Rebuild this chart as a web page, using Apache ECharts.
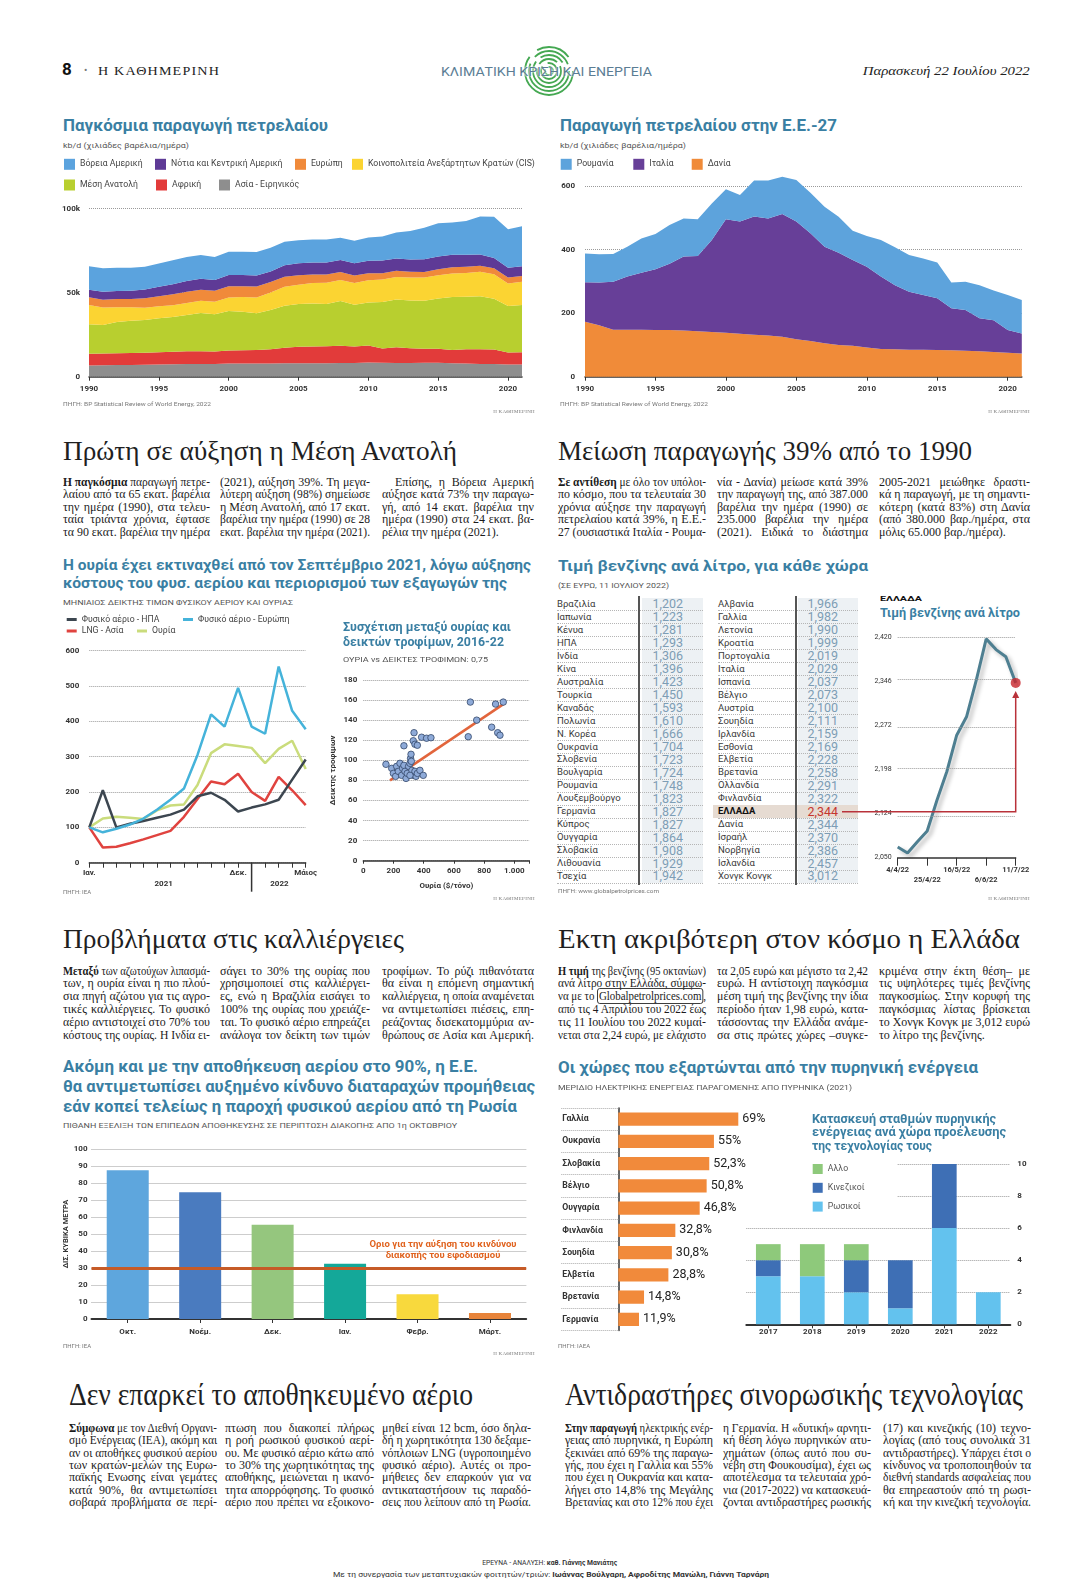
<!DOCTYPE html>
<html><head><meta charset="utf-8">
<script src="https://cdn.jsdelivr.net/npm/echarts@6/dist/echarts.min.js"></script>
<style>
html,body{margin:0;padding:0;background:#fff;}
#page{position:relative;width:1089px;height:1582px;overflow:hidden;background:#fff;font-family:Roboto,"Noto Sans",sans-serif;}
.cell{position:absolute;white-space:nowrap;}
</style></head><body><div id="page">
<svg style="position:absolute;left:520px;top:44px" width="58" height="58" viewBox="0 0 58 58">
<g fill="none" stroke="#45a852" stroke-width="1.8">
<circle cx="29" cy="27" r="4" stroke-dasharray="14 4"/>
<circle cx="29" cy="27" r="8" stroke-dasharray="30 6"/>
<circle cx="29" cy="27" r="12" stroke-dasharray="40 5 20 5"/>
<circle cx="29" cy="27" r="16" stroke-dasharray="60 6 25 6"/>
<circle cx="29" cy="27" r="20" stroke-dasharray="70 8 40 8"/>
<circle cx="29" cy="27" r="24" stroke-dasharray="90 10 35 15"/>
</g></svg>
</div>
<script>
// ---------------- DATA ----------------
const oilYears=['1990','1991','1992','1993','1994','1995','1996','1997','1998','1999','2000','2001','2002','2003','2004','2005','2006','2007','2008','2009','2010','2011','2012','2013','2014','2015','2016','2017','2018','2019','2020','2021'];
const northAmerica=[13900,14000,13900,13600,13600,13900,14200,14400,14200,13700,13900,13900,14100,14200,14100,13700,13700,13700,13200,13400,13800,14300,15500,16900,18800,19700,19200,20100,22600,24500,23000,23800];
const southCentralAmerica=[4500,4700,4800,4900,5200,5600,6000,6400,6600,6300,6700,6600,6500,6300,6800,7100,7100,7100,7200,7200,7400,7500,7400,7400,7600,7700,7500,7200,6700,6200,5700,5800];
const europe=[4600,4600,4800,5000,5700,6000,6500,6600,6500,6600,6700,6500,6500,6200,6000,5600,5200,5000,4700,4500,4200,3800,3600,3300,3300,3500,3600,3600,3500,3500,3600,3400];
const cis=[11500,10400,8900,8000,7300,7100,7100,7200,7300,7500,8000,8700,9500,10400,11300,11600,12100,12600,12600,13000,13300,13400,13500,13700,13800,13900,14100,14200,14600,14600,13400,13800];
const middleEast=[17500,17000,18600,19200,19500,20300,20600,21600,22800,22100,23500,23000,21800,23400,24900,25300,25600,25200,26600,24800,25600,27600,28400,28400,28600,29900,31500,31200,31600,30200,27700,28200];
const africa=[7000,7000,7000,7100,7100,7200,7500,7600,7600,7500,7800,7900,8000,8400,9300,9900,10000,10100,10300,9800,10100,8500,9300,8800,8300,8300,7900,8600,8700,8600,7100,7200];
const asiaPacific=[6700,6800,6900,7000,7100,7300,7400,7500,7500,7500,7800,7800,7900,7900,8000,8000,8000,8000,8100,8200,8400,8300,8200,8200,8300,8300,8000,7800,7600,7600,7300,7300];

const romania=[91,89,87,94,108,111,122,120,115,115,95,84,113,119,117,131,128,126,113,92,97,115,119,116,115,112,81,89,104,93,110,105];
const italy=[124,134,151,167,179,191,208,233,237,289,357,353,372,368,386,370,339,304,290,270,254,228,202,182,172,163,132,128,104,100,72,63];
const denmark=[173,162,148,148,148,147,147,145,143,141,138,135,132,130,126,118,112,105,100,97,92,87,86,85,85,84,83,82,80,78,75,73];

const gasMonths=['Ιαν.','Φεβ.','Μάρ.','Απρ.','Μάιος','Ιούν.','Ιούλ.','Αύγ.','Σεπ.','Οκτ.','Νοέ.','Δεκ.','Ιαν.','Φεβ.','Μάρ.','Απρ.','Μάιος'];
const gasUS=[100,205,100,110,118,127,136,150,188,198,178,145,156,165,178,235,292];
const gasEurope=[100,86,96,108,125,150,178,210,305,420,385,495,385,365,555,430,378];
const lngAsia=[100,43,45,55,66,78,90,130,180,230,222,252,200,175,243,205,163];
const ureaIndex=[100,125,130,127,124,148,162,165,220,310,335,330,325,282,322,345,265];

const scatterUrea=[150,188,199,214,221,232,243,254,260,269,276,283,291,300,309,313,316,318,322,331,342,349,358,375,397,309,269,336,331,342,358,386,419,448,695,709,751,850,876,890,905,927];
const scatterFood=[96,92,87,84,94,89,97,85,92,95,89,82,87,94,97,102,106,99,90,85,89,84,87,90,85,85,114.5,127.5,119.5,116,115,123,122,122.5,123.5,158,140,133,156,127.5,125,158];
const trendUrea=[177,938];
const trendFood=[80,157];

const petrolCountriesA=['Βραζιλία','Ιαπωνία','Κένυα','ΗΠΑ','Ινδία','Κίνα','Αυστραλία','Τουρκία','Καναδάς','Πολωνία','Ν. Κορέα','Ουκρανία','Σλοβενία','Βουλγαρία','Ρουμανία','Λουξεμβούργο','Γερμανία','Κύπρος','Ουγγαρία','Σλοβακία','Λιθουανία','Τσεχία'];
const petrolPricesA=[1.202,1.223,1.281,1.293,1.306,1.396,1.423,1.450,1.593,1.610,1.666,1.704,1.723,1.724,1.748,1.823,1.827,1.827,1.864,1.908,1.929,1.942];
const petrolCountriesB=['Αλβανία','Γαλλία','Λετονία','Κροατία','Πορτογαλία','Ιταλία','Ισπανία','Βέλγιο','Αυστρία','Σουηδία','Ιρλανδία','Εσθονία','Ελβετία','Βρετανία','Ολλανδία','Φινλανδία','ΕΛΛΑΔΑ','Δανία','Ισραήλ','Νορβηγία','Ισλανδία','Χονγκ Κονγκ'];
const petrolPricesB=[1.966,1.982,1.990,1.999,2.019,2.029,2.037,2.073,2.100,2.111,2.159,2.169,2.228,2.258,2.291,2.322,2.344,2.344,2.370,2.386,2.457,3.012];

const greeceDates=['4/4/22','11/4/22','18/4/22','25/4/22','2/5/22','9/5/22','16/5/22','23/5/22','30/5/22','6/6/22','13/6/22','27/6/22','11/7/22'];
const greecePrices=[2.068,2.058,2.077,2.095,2.147,2.195,2.256,2.287,2.349,2.418,2.400,2.388,2.344];
const greeceTicks=[2.050,2.124,2.198,2.272,2.346,2.420];

const storageMonths=['Οκτ.','Νοέμ.','Δεκ.','Ιαν.','Φεβρ.','Μάρτ.'];
const storageValues=[87.5,74.5,55.5,32.5,14.5,3.5];
const storageThreshold=30;

const nuclearCountries=['Γαλλία','Ουκρανία','Σλοβακία','Βέλγιο','Ουγγαρία','Φινλανδία','Σουηδία','Ελβετία','Βρετανία','Γερμανία'];
const nuclearShare=[69,55,52.3,50.8,46.8,32.8,30.8,28.8,14.8,11.9];

const buildYears=['2017','2018','2019','2020','2021','2022'];
const russianReactors=[3,3,2,1,6,2];
const chineseReactors=[1,0,2,3,4,0];
const otherReactors=[1,2,1,0,0,0];

// ---------------- helpers ----------------
const page=document.getElementById('page');
const TEAL='#3a7fa3';
const FF='Roboto, "Noto Sans", sans-serif';
function txt(x,yc,html,style,fitW,align){
  const d=document.createElement('div');
  d.className='cell';
  d.style.cssText+='line-height:1.15;'+style;
  d.innerHTML='<span style="display:inline-block">'+html+'</span>';
  page.appendChild(d);
  const s=d.firstChild;
  const r=s.getBoundingClientRect();
  if(fitW){s.style.transformOrigin=align==='c'?'50% 50%':(align==='r'?'100% 50%':'0 50%');s.style.transform='scaleX('+(fitW/r.width)+')';}
  d.style.top=(yc-r.height/2)+'px';
  if(align==='c')d.style.left=(x-r.width/2)+'px';else if(align==='r')d.style.left=(x-r.width)+'px';else d.style.left=x+'px';
  return d;
}
function col(lines,x,y0,lh,w,fs){
  lines.forEach((ln,i)=>{
    let indent=0,last=false,s=ln;
    if(s[0]==='>'){indent=13;s=s.slice(1);}
    if(s.endsWith('¶')){last=true;s=s.slice(0,-1);}
    const d=document.createElement('div');
    d.className='cell';
    d.style.cssText+=`font-family:"Liberation Serif",serif;font-size:${fs}px;line-height:${lh}px;color:#1b1b1b;left:${x+indent}px;top:${y0+i*lh-lh/2}px;`;
    const sp=document.createElement('span');sp.style.display='inline-block';sp.innerHTML=s;d.appendChild(sp);page.appendChild(d);
    const avail=w-indent;const nat=sp.getBoundingClientRect().width;
    if(nat>avail){sp.style.transformOrigin='0 50%';sp.style.transform=`scaleX(${avail/nat})`;}
    else if(!last){const n=(sp.textContent.match(/ /g)||[]).length;if(n)sp.style.wordSpacing=((avail-nat)/n)+'px';}
  });
}
function mk(x,y,w,h){const d=document.createElement('div');d.style.cssText=`position:absolute;left:${x}px;top:${y}px;width:${w}px;height:${h}px;`;page.appendChild(d);return echarts.init(d,null,{renderer:'canvas'});}
const lab={fontFamily:FF,fontSize:8,fontWeight:'bold',color:'#333'};
const dotted={lineStyle:{type:'dotted',color:'#9a9a9a',width:1}};
function leg(name,left,top,w,h,fs){return {data:[name],left,top,padding:0,icon:'rect',itemWidth:w,itemHeight:h,itemGap:0,selectedMode:false,textStyle:{fontFamily:FF,fontSize:fs,color:'#444'}};}
const fmt3=v=>v.toFixed(3).replace('.',',');
const fmtPct=v=>(Number.isInteger(v)?String(v):v.toFixed(1).replace('.',','))+'%';
const G=(o)=>Object.assign({containLabel:false,outerBoundsMode:'none'},o);
const axName={fontFamily:FF,fontSize:8,fontWeight:'bold',color:'#333'};

// ---------------- C1 world oil ----------------
const c1=mk(55,150,480,255);
const c1Names=['Βόρεια Αμερική','Νότια και Κεντρική Αμερική','Ευρώπη','Κοινοπολιτεία Ανεξάρτητων Κρατών (CIS)','Μέση Ανατολή','Αφρική','Ασία - Ειρηνικός'];
const c1Data=[northAmerica,southCentralAmerica,europe,cis,middleEast,africa,asiaPacific];
const c1Colors=['#5ba3de','#5e3a96','#f08a3a','#fbd432','#b8cf2f','#e23b3a','#8e8e8e'];
const c1Series=[];
for(let i=6;i>=0;i--)c1Series.push({name:c1Names[i],type:'line',stack:'oil',data:c1Data[i],symbol:'none',lineStyle:{width:0},areaStyle:{color:c1Colors[i],opacity:1},itemStyle:{color:c1Colors[i]}});
c1.setOption({animation:false,
  legend:[leg(c1Names[0],9,8.8,11,11,8.7),leg(c1Names[1],100,8.8,11,11,8.7),leg(c1Names[2],240,8.8,11,11,8.7),leg(c1Names[3],297,8.8,11,11,8.7),
          leg(c1Names[4],9,29.5,11,11,8.7),leg(c1Names[5],101,29.5,11,11,8.7),leg(c1Names[6],164,29.5,11,11,8.7)],
  grid:G({left:34,right:13,top:58.7,bottom:28.3}),
  xAxis:{type:'category',data:oilYears,boundaryGap:false,axisLine:{lineStyle:{color:'#333',width:1.5}},
    axisTick:{show:true,interval:(i)=>i%5===0,length:4,lineStyle:{color:'#333'}},
    axisLabel:Object.assign({interval:(i)=>i%5===0,margin:8},lab),splitLine:{show:false}},
  yAxis:{type:'value',min:0,max:100000,interval:50000,axisLine:{show:false},axisTick:{show:false},
    axisLabel:Object.assign({formatter:v=>v===0?'0':(v/1000)+'k',margin:9},lab),splitLine:dotted},
  series:c1Series});

// ---------------- C2 EU oil ----------------
const c2=mk(550,150,480,255);
c2.setOption({animation:false,
  legend:[leg('Ρουμανία',10.7,8.8,11,11,8.7),leg('Ιταλία',83.3,8.8,11,11,8.7),leg('Δανία',141.7,8.8,11,11,8.7)],
  grid:G({left:35,right:8.2,top:36,bottom:28.3}),
  xAxis:{type:'category',data:oilYears,boundaryGap:false,axisLine:{lineStyle:{color:'#333',width:1.5}},
    axisTick:{show:true,interval:(i)=>i%5===0,length:4,lineStyle:{color:'#333'}},
    axisLabel:Object.assign({interval:(i)=>i%5===0,margin:8},lab),splitLine:{show:false}},
  yAxis:{type:'value',min:0,max:600,interval:200,axisLine:{show:false},axisTick:{show:false},
    axisLabel:Object.assign({margin:10},lab),splitLine:dotted},
  series:[
    {name:'Δανία',type:'line',stack:'eu',data:denmark,symbol:'none',clip:false,lineStyle:{width:0},areaStyle:{color:'#f08b39',opacity:1},itemStyle:{color:'#f08b39'}},
    {name:'Ιταλία',type:'line',stack:'eu',data:italy,symbol:'none',clip:false,lineStyle:{width:0},areaStyle:{color:'#673f98',opacity:1},itemStyle:{color:'#673f98'}},
    {name:'Ρουμανία',type:'line',stack:'eu',data:romania,symbol:'none',clip:false,lineStyle:{width:0},areaStyle:{color:'#5da3dc',opacity:1},itemStyle:{color:'#5da3dc'}}
  ]});

// ---------------- C3 gas & urea ----------------
const c3=mk(55,608,285,292);
const c3Names=['Φυσικό αέριο - ΗΠΑ','Φυσικό αέριο - Ευρώπη','LNG - Ασία','Ουρία'];
const c3Colors=['#3c4650','#45b3da','#e0433f','#cadc7c'];
const c3Data=[gasUS,gasEurope,lngAsia,ureaIndex];
c3.setOption({animation:false,
  legend:[leg(c3Names[0],11.7,7,10,3,8.7),leg(c3Names[1],128,7,10,3,8.7),leg(c3Names[2],11.7,18.5,10,3,8.7),leg(c3Names[3],82,18.5,10,3,8.7)],
  grid:G({left:34.3,right:34.3,top:42.7,bottom:37.3}),
  xAxis:{type:'category',data:gasMonths,boundaryGap:false,axisLine:{lineStyle:{color:'#333',width:1.5}},
    axisTick:{show:true,interval:0,length:5,lineStyle:{color:'#333'}},
    axisLabel:Object.assign({interval:(i)=>i===0||i===11||i===16,margin:6},lab),splitLine:{show:false}},
  yAxis:{type:'value',min:0,max:600,interval:100,axisLine:{show:false},axisTick:{show:false},
    axisLabel:Object.assign({margin:10},lab),splitLine:dotted},
  series:[3,2,0,1].map(i=>({name:c3Names[i],type:'line',data:c3Data[i],symbol:'none',lineStyle:{width:2.5,color:c3Colors[i]},itemStyle:{color:c3Colors[i]}}))
});
{
  const p=(i)=>c3.convertToPixel({xAxisIndex:0},i);
  const y0=c3.convertToPixel({yAxisIndex:0},0);
  c3.setOption({graphic:[
    {type:'line',shape:{x1:p(12),y1:y0,x2:p(12),y2:y0+29},style:{stroke:'#333',lineWidth:1.5}},
    {type:'text',x:(p(5)+p(6))/2,y:y0+21,style:{text:'2021',font:'bold 8px Roboto',fill:'#333',align:'center',verticalAlign:'middle'}},
    {type:'text',x:(p(14)+p(15))/2-6,y:y0+21,style:{text:'2022',font:'bold 8px Roboto',fill:'#333',align:'center',verticalAlign:'middle'}}
  ]});
}

// ---------------- C4 scatter ----------------
const c4=mk(330,660,210,240);
c4.setOption({animation:false,
  grid:G({left:33.3,right:10.6,top:20,bottom:39.3}),
  xAxis:{type:'value',min:0,max:1100,interval:200,axisLine:{show:true,lineStyle:{color:'#333',width:1.5}},axisTick:{show:true,length:3,lineStyle:{color:'#333'}},
    axisLabel:Object.assign({formatter:v=>v===1000?'1.000':(v>1000?'':String(v)),margin:6},lab),splitLine:{show:false},
    name:'Ουρία ($/τόνο)',nameLocation:'middle',nameGap:21,nameMoveOverlap:false,nameTextStyle:axName},
  yAxis:{type:'value',min:0,max:180,interval:20,axisLine:{show:false},axisTick:{show:false},
    axisLabel:Object.assign({margin:6},lab),splitLine:dotted,
    name:'Δείκτης τροφίμων',nameLocation:'middle',nameGap:26,nameRotate:90,nameMoveOverlap:false,nameTextStyle:axName},
  series:[
    {type:'line',data:trendUrea.map((u,i)=>[u,trendFood[i]]),symbol:'none',lineStyle:{color:'#e2653c',width:2.5},z:2},
    {type:'scatter',data:scatterUrea.map((u,i)=>[u,scatterFood[i]]),symbolSize:6.5,itemStyle:{color:'#8eaad8',borderColor:'#34476a',borderWidth:0.8,opacity:1},z:3}
  ]});

// ---------------- table ----------------
const rowY0=604.3,rowH=12.97;
[[petrolCountriesA,petrolPricesA,557,638,683,641.7,703],[petrolCountriesB,petrolPricesB,718,795,838,797.5,858]].forEach(([names,vals,nx,lx,vx,bx0,bx1])=>{
  const band=document.createElement('div');band.style.cssText=`position:absolute;left:${bx0}px;top:${rowY0-6.5}px;width:${bx1-bx0}px;height:${rowH*names.length}px;background:#edf1f4;`;page.appendChild(band);
  names.forEach((n,i)=>{
    const yc=rowY0+i*rowH;
    const gr=n==='ΕΛΛΑΔΑ';
    if(gr){const h=document.createElement('div');h.style.cssText=`position:absolute;left:${nx-5}px;top:${yc-6.5}px;width:${bx1-nx+5}px;height:${rowH}px;background:#e6dbd2;`;page.appendChild(h);}
    const ln=document.createElement('div');ln.style.cssText=`position:absolute;left:${nx}px;top:${yc+6}px;width:${bx1-nx}px;border-top:1px dotted #b5b5b5;`;page.appendChild(ln);
    txt(nx,yc,n,`font-family:${FF};font-size:9.5px;color:${gr?'#111':'#3a3a3a'};${gr?'font-weight:bold;':''}`);
    txt(vx,yc,fmt3(vals[i]),`font-family:${FF};font-size:12.5px;color:${gr?'#c5362f':'#7d9db5'};`,null,'r');
  });
  const vl=document.createElement('div');vl.style.cssText=`position:absolute;left:${lx}px;top:${rowY0-8}px;width:1.5px;height:${rowH*names.length+3}px;background:#555;`;page.appendChild(vl);
});

// ---------------- C6 Greece ----------------
const c6=mk(840,625,200,270);
const gLast=greecePrices.length-1;
c6.setOption({animation:false,
  grid:G({left:57.7,right:24.3,top:12.7,bottom:37.3}),
  xAxis:{type:'category',data:greeceDates,boundaryGap:false,axisLine:{lineStyle:{color:'#333',width:1.5}},
    axisTick:{show:true,interval:(i)=>i%3===0,length:8,lineStyle:{color:'#333'}},
    axisLabel:{interval:(i)=>i%3===0,formatter:(v,i)=>((i/3)%2===1?'\n':'')+v,margin:7,fontFamily:FF,fontSize:7.5,fontWeight:'bold',color:'#333',lineHeight:10.5},splitLine:{show:false}},
  yAxis:{type:'value',min:greeceTicks[0],max:greeceTicks[greeceTicks.length-1],axisLine:{show:false},
    axisTick:{show:false,customValues:greeceTicks},
    axisLabel:{customValues:greeceTicks,formatter:v=>fmt3(v),margin:6,fontFamily:FF,fontSize:7,color:'#333'},splitLine:{show:false}},
  series:[
    {type:'line',data:greecePrices,symbol:'none',lineStyle:{width:3,color:'#4e7f91',shadowColor:'rgba(0,0,0,0.28)',shadowBlur:4,shadowOffsetX:3,shadowOffsetY:3},
      markLine:{silent:true,symbol:'none',label:{show:false},lineStyle:{type:'dotted',color:'#9a9a9a',width:1},data:greeceTicks.slice(1).map(v=>({yAxis:v}))},z:3},
    {type:'scatter',data:[[greeceDates[gLast],greecePrices[gLast]]],symbolSize:10,itemStyle:{color:'#c8262c'},z:5}
  ]});
{
  const pt=c6.convertToPixel({seriesIndex:0},[gLast,greecePrices[gLast]]);
  const rowY=rowY0+16*rowH-625;
  c6.setOption({graphic:[
    {type:'polyline',shape:{points:[[2,rowY],[pt[0],rowY],[pt[0],pt[1]+12]]},style:{stroke:'#b9323a',lineWidth:1.5,fill:null},z:4},
    {type:'polygon',shape:{points:[[pt[0]-3.5,pt[1]+15],[pt[0]+3.5,pt[1]+15],[pt[0],pt[1]+8]]},style:{fill:'#b9323a'},z:4}
  ]});
}

// ---------------- C7 gas storage ----------------
const c7=mk(55,1135,480,215);
const storageColors=['#5ea6dd','#4a7bbf','#95c67e','#14a899','#f8d93d','#e8843a'];
c7.setOption({animation:false,
  grid:G({left:36.5,right:8.8,top:14,bottom:31}),
  xAxis:{type:'category',data:storageMonths,axisLine:{lineStyle:{color:'#333',width:2}},axisTick:{show:true,alignWithLabel:true,length:4,lineStyle:{color:'#333'}},
    axisLabel:Object.assign({margin:9},lab)},
  yAxis:{type:'value',min:0,max:100,interval:10,axisLine:{show:false},axisTick:{show:false},axisLabel:Object.assign({margin:4},lab),splitLine:dotted,
    name:'ΔΙΣ. ΚΥΒΙΚΑ ΜΕΤΡΑ',nameLocation:'middle',nameGap:21,nameRotate:90,nameMoveOverlap:false,nameTextStyle:Object.assign({},axName,{fontSize:7.5})},
  series:[{type:'bar',barWidth:42,data:storageValues.map((v,i)=>({value:v,itemStyle:{color:storageColors[i]}})),
    markLine:{silent:true,symbol:['none','arrow'],symbolSize:[0,10],label:{show:false},lineStyle:{color:'#c65b27',width:3,type:'solid'},data:[{yAxis:storageThreshold}]}}]
});
{
  const ty=c7.convertToPixel({yAxisIndex:0},storageThreshold);
  c7.setOption({graphic:[
    {type:'text',x:388,y:ty-23,style:{text:'Οριο για την αύξηση του κινδύνου',font:'bold 9.5px Roboto',fill:'#e0631f',align:'center',verticalAlign:'middle'}},
    {type:'text',x:388,y:ty-12,style:{text:'διακοπής του εφοδιασμού',font:'bold 9.5px Roboto',fill:'#e0631f',align:'center',verticalAlign:'middle'}}
  ]});
}

// ---------------- C9 reactors (before C8 so C8 labels stay on top) ----------------
const c9=mk(740,1100,290,245);
c9.setOption({animation:false,
  legend:{data:['Αλλο','Κινεζικοί','Ρωσικοί'],orient:'vertical',left:72.7,top:64,padding:0,itemWidth:10,itemHeight:10,itemGap:8.8,icon:'rect',selectedMode:false,z:20,textStyle:{fontFamily:FF,fontSize:8.7,color:'#555'}},
  grid:G({left:6.3,right:19.7,top:64,bottom:20.7}),
  xAxis:{type:'category',data:buildYears,axisLine:{lineStyle:{color:'#333',width:2}},axisTick:{show:true,alignWithLabel:true,length:4,lineStyle:{color:'#333'}},axisLabel:Object.assign({margin:4},lab)},
  yAxis:{type:'value',position:'right',min:0,max:10,interval:2,axisLine:{show:false},axisTick:{show:false},axisLabel:Object.assign({margin:7},lab),splitLine:dotted},
  graphic:[{type:'rect',shape:{x:0,y:0,width:157,height:99},style:{fill:'#fff'},z:10}],
  series:[
    {name:'Ρωσικοί',type:'bar',stack:'r',barWidth:24.7,data:russianReactors,itemStyle:{color:'#63c2ee'}},
    {name:'Κινεζικοί',type:'bar',stack:'r',barWidth:24.7,data:chineseReactors,itemStyle:{color:'#3e6fb5'}},
    {name:'Αλλο',type:'bar',stack:'r',barWidth:24.7,data:otherReactors,itemStyle:{color:'#8ec97b'}}
  ]});

// ---------------- C8 nuclear share ----------------
const c8=mk(550,1100,250,245);
c8.setOption({animation:false,
  grid:G({left:68.3,right:7.8,top:7.9,bottom:14.5}),
  yAxis:{type:'category',data:nuclearCountries,inverse:true,axisLine:{lineStyle:{color:'#333',width:1.5}},
    axisTick:{show:true,length:57,lineStyle:{type:'dotted',color:'#aaa'}},
    axisLabel:{align:'left',margin:56,fontFamily:FF,fontSize:8.7,fontWeight:'bold',color:'#333'}},
  xAxis:{type:'value',min:0,max:100,show:false},
  series:[{type:'bar',data:nuclearShare,barWidth:13.3,itemStyle:{color:'#f18a3b'},
    label:{show:true,position:'right',distance:4,formatter:p=>fmtPct(p.value),fontFamily:FF,fontSize:12.5,color:'#222'}}]
});

// ---------------- texts ----------------
const tt=`font-family:${FF};font-weight:bold;color:${TEAL};`;
const sub=`font-family:${FF};font-size:7.5px;color:#555;`;
const srcS=`font-family:${FF};font-size:6px;color:#777;`;
const kath=`font-family:"Liberation Serif",serif;font-size:5px;color:#777;letter-spacing:0.3px;`;
const head=`font-family:"Liberation Serif",serif;font-size:28px;color:#1f1f1f;`;
const head2=`font-family:"Liberation Serif",serif;font-size:31px;color:#1f1f1f;`;
const FS=12;

// header
txt(62,70,'8',`font-family:${FF};font-weight:bold;font-size:17px;color:#111;`);
txt(84,71,'•',`font-family:${FF};font-size:10px;color:#777;`);
txt(98,72,'Η ΚΑΘΗΜΕΡΙΝΗ',`font-family:"Liberation Serif",serif;font-size:12px;color:#222;letter-spacing:1px;`,122);
txt(441,73,'ΚΛΙΜΑΤΙΚΗ ΚΡΙΣΗ ΚΑΙ ΕΝΕΡΓΕΙΑ',`font-family:${FF};font-size:12px;color:#5b7d94;text-shadow:0 0 2px #fff,0 0 2px #fff;`,211);
txt(1030,71,'Παρασκευή 22 Ιουλίου 2022',`font-family:"Liberation Serif",serif;font-style:italic;font-size:13px;color:#222;`,167,'r');

// section 1
txt(63,126,'Παγκόσμια παραγωγή πετρελαίου',tt+'font-size:17px;',265);
txt(63,146,'kb/d (χιλιάδες βαρέλια/ημέρα)',sub,126);
txt(63,404,'ΠΗΓΗ: BP Statistical Review of World Energy, 2022',srcS,148);
txt(535,412,'Η ΚΑΘΗΜΕΡΙΝΗ',kath,null,'r');
txt(560,126,'Παραγωγή πετρελαίου στην Ε.Ε.-27',tt+'font-size:17px;',277);
txt(560,146,'kb/d (χιλιάδες βαρέλια/ημέρα)',sub,126);
txt(560,404,'ΠΗΓΗ: BP Statistical Review of World Energy, 2022',srcS,148);
txt(1030,412,'Η ΚΑΘΗΜΕΡΙΝΗ',kath,null,'r');

txt(63,451,'Πρώτη σε αύξηση η Μέση Ανατολή',head,394);
txt(558,451,'Μείωση παραγωγής 39% από το 1990',head,414);
const LH1=12.5,Y1=482;
col(['<b>Η παγκόσμια</b> παραγωγή πετρε-','λαίου από τα 65 εκατ. βαρέλια','την ημέρα (1990), στα τελευ-','ταία τριάντα χρόνια, έφτασε','τα 90 εκατ. βαρέλια την ημέρα'],63,Y1,LH1,147,FS);
col(['(2021), αύξηση 39%. Τη μεγα-','λύτερη αύξηση (98%) σημείωσε','η Μέση Ανατολή, από 17 εκατ.','βαρέλια την ημέρα (1990) σε 28','εκατ. βαρέλια την ημέρα (2021).'],220,Y1,LH1,150,FS);
col(['>Επίσης, η Βόρεια Αμερική','αύξησε κατά 73% την παραγω-','γή, από 14 εκατ. βαρέλια την','ημέρα (1990) στα 24 εκατ. βα-','ρέλια την ημέρα (2021).¶'],382,Y1,LH1,152,FS);
col(['<b>Σε αντίθεση</b> με όλο τον υπόλοι-','πο κόσμο, που τα τελευταία 30','χρόνια αύξησε την παραγωγή','πετρελαίου κατά 39%, η Ε.Ε.-','27 (ουσιαστικά Ιταλία - Ρουμα-'],558,Y1,LH1,148,FS);
col(['νία - Δανία) μείωσε κατά 39%','την παραγωγή της, από 387.000','βαρέλια την ημέρα (1990) σε','235.000 βαρέλια την ημέρα','(2021). Ειδικά το διάστημα'],717,Y1,LH1,151,FS);
col(['2005-2021 μειώθηκε δραστι-','κά η παραγωγή, με τη σημαντι-','κότερη (κατά 83%) στη Δανία','(από 380.000 βαρ./ημέρα, στα','μόλις 65.000 βαρ./ημέρα).¶'],879,Y1,LH1,151,FS);

// section 2
txt(63,566,'Η ουρία έχει εκτιναχθεί από τον Σεπτέμβριο 2021, λόγω αύξησης',tt+'font-size:15.5px;',468);
txt(63,584,'κόστους του φυσ. αερίου και περιορισμού των εξαγωγών της',tt+'font-size:15.5px;',444);
txt(63,603,'ΜΗΝΙΑΙΟΣ ΔΕΙΚΤΗΣ ΤΙΜΩΝ ΦΥΣΙΚΟΥ ΑΕΡΙΟΥ ΚΑΙ ΟΥΡΙΑΣ',sub,230);
txt(343,628.3,'Συσχέτιση μεταξύ ουρίας και',tt+'font-size:12px;',168);
txt(343,643.3,'δεικτών τροφίμων, 2016-22',tt+'font-size:12px;',161);
txt(343,660,'ΟΥΡΙΑ vs ΔΕΙΚΤΕΣ ΤΡΟΦΙΜΩΝ: 0,75',sub+'font-size:8px;',145);
txt(63,892,'ΠΗΓΗ: IEA',srcS);
txt(535,899,'Η ΚΑΘΗΜΕΡΙΝΗ',kath,null,'r');
txt(558,567,'Τιμή βενζίνης ανά λίτρο, για κάθε χώρα',tt+'font-size:15.5px;',310);
txt(558,586,'(ΣΕ ΕΥΡΩ, 11 ΙΟΥΛΙΟΥ 2022)',sub,111);
txt(880,598.3,'ΕΛΛΑΔΑ',`font-family:${FF};font-weight:bold;font-size:8px;color:#111;`,42);
txt(880,614,'Τιμή βενζίνης ανά λίτρο',tt+'font-size:12px;',140);
txt(558,891,'ΠΗΓΗ: www.globalpetrolprices.com',srcS,101);
txt(1030,899,'Η ΚΑΘΗΜΕΡΙΝΗ',kath,null,'r');

txt(63,939,'Προβλήματα στις καλλιέργειες',head,341);
txt(558,939,'Εκτη ακριβότερη στον κόσμο η Ελλάδα',head,462);
const LH2=12.9,Y2=971;
col(['<b>Μεταξύ</b> των αζωτούχων λιπασμά-','των, η ουρία είναι η πιο πλού-','σια πηγή αζώτου για τις αγρο-','τικές καλλιέργειες. Το φυσικό','αέριο αντιστοιχεί στο 70% του','κόστους της ουρίας. Η Ινδία ει-'],63,Y2,LH2,147,FS);
col(['σάγει το 30% της ουρίας που','χρησιμοποιεί στις καλλιέργει-','ες, ενώ η Βραζιλία εισάγει το','100% της ουρίας που χρειάζε-','ται. Το φυσικό αέριο επηρεάζει','ανάλογα τον δείκτη των τιμών'],220,Y2,LH2,150,FS);
col(['τροφίμων. Το ρύζι πιθανότατα','θα είναι η επόμενη σημαντική','καλλιέργεια, η οποία αναμένεται','να αντιμετωπίσει πιέσεις, επη-','ρεάζοντας δισεκατομμύρια αν-','θρώπους σε Ασία και Αμερική.'],382,Y2,LH2,152,FS);
col(['<b>Η τιμή</b> της βενζίνης (95 οκτανίων)','ανά λίτρο στην Ελλάδα, σύμφω-','να με το <span style="border:1px solid #333;border-radius:3px;padding:0 1px">Globalpetrolprices.com</span>,','από τις 4 Απριλίου του 2022 έως','τις 11 Ιουλίου του 2022 κυμαί-','νεται στα 2,24 ευρώ, με ελάχιστο'],558,Y2,LH2,148,FS);
col(['τα 2,05 ευρώ και μέγιστο τα 2,42','ευρώ. Η αντίστοιχη παγκόσμια','μέση τιμή της βενζίνης την ίδια','περίοδο ήταν 1,98 ευρώ, κατα-','τάσσοντας την Ελλάδα ανάμε-','σα στις πρώτες χώρες –συγκε-'],717,Y2,LH2,151,FS);
col(['κριμένα στην έκτη θέση– με','τις υψηλότερες τιμές βενζίνης','παγκοσμίως. Στην κορυφή της','παγκόσμιας λίστας βρίσκεται','το Χονγκ Κονγκ με 3,012 ευρώ','το λίτρο της βενζίνης.¶'],879,Y2,LH2,151,FS);

// section 3
txt(63,1067.5,'Ακόμη και με την αποθήκευση αερίου στο 90%, η Ε.Ε.',tt+'font-size:16px;',415);
txt(63,1087.5,'θα αντιμετωπίσει αυξημένο κίνδυνο διαταραχών προμήθειας',tt+'font-size:16px;',472);
txt(63,1107.5,'εάν κοπεί τελείως η παροχή φυσικού αερίου από τη Ρωσία',tt+'font-size:16px;',454);
txt(63,1126.5,'ΠΙΘΑΝΗ ΕΞΕΛΙΞΗ ΤΩΝ ΕΠΙΠΕΔΩΝ ΑΠΟΘΗΚΕΥΣΗΣ ΣΕ ΠΕΡΙΠΤΩΣΗ ΔΙΑΚΟΠΗΣ ΑΠΟ 1η ΟΚΤΩΒΡΙΟΥ',sub,394);
txt(63,1346,'ΠΗΓΗ: IEA',srcS);
txt(535,1354,'Η ΚΑΘΗΜΕΡΙΝΗ',kath,null,'r');
txt(558,1067.7,'Οι χώρες που εξαρτώνται από την πυρηνική ενέργεια',tt+'font-size:16px;',420);
txt(558,1088.3,'ΜΕΡΙΔΙΟ ΗΛΕΚΤΡΙΚΗΣ ΕΝΕΡΓΕΙΑΣ ΠΑΡΑΓΟΜΕΝΗΣ ΑΠΟ ΠΥΡΗΝΙΚΑ (2021)',sub,294);
txt(811.7,1119,'Κατασκευή σταθμών πυρηνικής',tt+'font-size:12.5px;',184);
txt(811.7,1132.5,'ενέργειας ανά χώρα προέλευσης',tt+'font-size:12.5px;',194);
txt(811.7,1146,'της τεχνολογίας τους',tt+'font-size:12.5px;',120);
txt(558,1346,'ΠΗΓΗ: IAEA',srcS);

txt(69,1395,'Δεν επαρκεί το αποθηκευμένο αέριο',head2,404);
txt(565,1395,'Αντιδραστήρες σινορωσικής τεχνολογίας',head2,458);
const LH3=12.4,Y3=1428;
col(['<b>Σύμφωνα</b> με τον Διεθνή Οργανι-','σμό Ενέργειας (IEA), ακόμη και','αν οι αποθήκες φυσικού αερίου','των κρατών-μελών της Ευρω-','παϊκής Ενωσης είναι γεμάτες','κατά 90%, θα αντιμετωπίσει','σοβαρά προβλήματα σε περί-'],69,Y3,LH3,148,FS);
col(['πτωση που διακοπεί πλήρως','η ροή ρωσικού φυσικού αερί-','ου. Με φυσικό αέριο κάτω από','το 30% της χωρητικότητας της','αποθήκης, μειώνεται η ικανό-','τητα απορρόφησης. Το φυσικό','αέριο που πρέπει να εξοικονο-'],225,Y3,LH3,149,FS);
col(['μηθεί είναι 12 bcm, όσο δηλα-','δή η χωρητικότητα 130 δεξαμε-','νόπλοιων LNG (υγροποιημένο','φυσικό αέριο). Αυτές οι προ-','μήθειες δεν επαρκούν για να','αντικαταστήσουν τις παραδό-','σεις που λείπουν από τη Ρωσία.'],382,Y3,LH3,149,FS);
col(['<b>Στην παραγωγή</b> ηλεκτρικής ενέρ-','γειας από πυρηνικά, η Ευρώπη','ξεκινάει από 69% της παραγω-','γής, που έχει η Γαλλία και 55%','που έχει η Ουκρανία και κατα-','λήγει στο 14,8% της Μεγάλης','Βρετανίας και στο 12% που έχει'],565,Y3,LH3,148,FS);
col(['η Γερμανία. Η «δυτική» αρνητι-','κή θέση λόγω πυρηνικών ατυ-','χημάτων (όπως αυτό που συ-','νέβη στη Φουκουσίμα), έχει ως','αποτέλεσμα τα τελευταία χρό-','νια (2017-2022) να κατασκευά-','ζονται αντιδραστήρες ρωσικής'],723,Y3,LH3,148,FS);
col(['(17) και κινεζικής (10) τεχνο-','λογίας (από τους συνολικά 31','αντιδραστήρες). Υπάρχει έτσι ο','κίνδυνος να τροποποιηθούν τα','διεθνή standards ασφαλείας που','θα επηρεαστούν από τη ρωσι-','κή και την κινεζική τεχνολογία.'],883,Y3,LH3,148,FS);

// footer
txt(550,1563,'ΕΡΕΥΝΑ - ΑΝΑΛΥΣΗ: <b>καθ. Γιάννης Μανιάτης</b>',`font-family:${FF};font-size:8px;color:#333;`,135,'c');
txt(551,1575,'Με τη συνεργασία των μεταπτυχιακών φοιτητών/τριών: <b>Ιωάννας Βούλγαρη, Αφροδίτης Μανώλη, Γιάννη Ταρνάρη</b>',`font-family:${FF};font-size:8px;color:#333;`,436,'c');
</script></body></html>
